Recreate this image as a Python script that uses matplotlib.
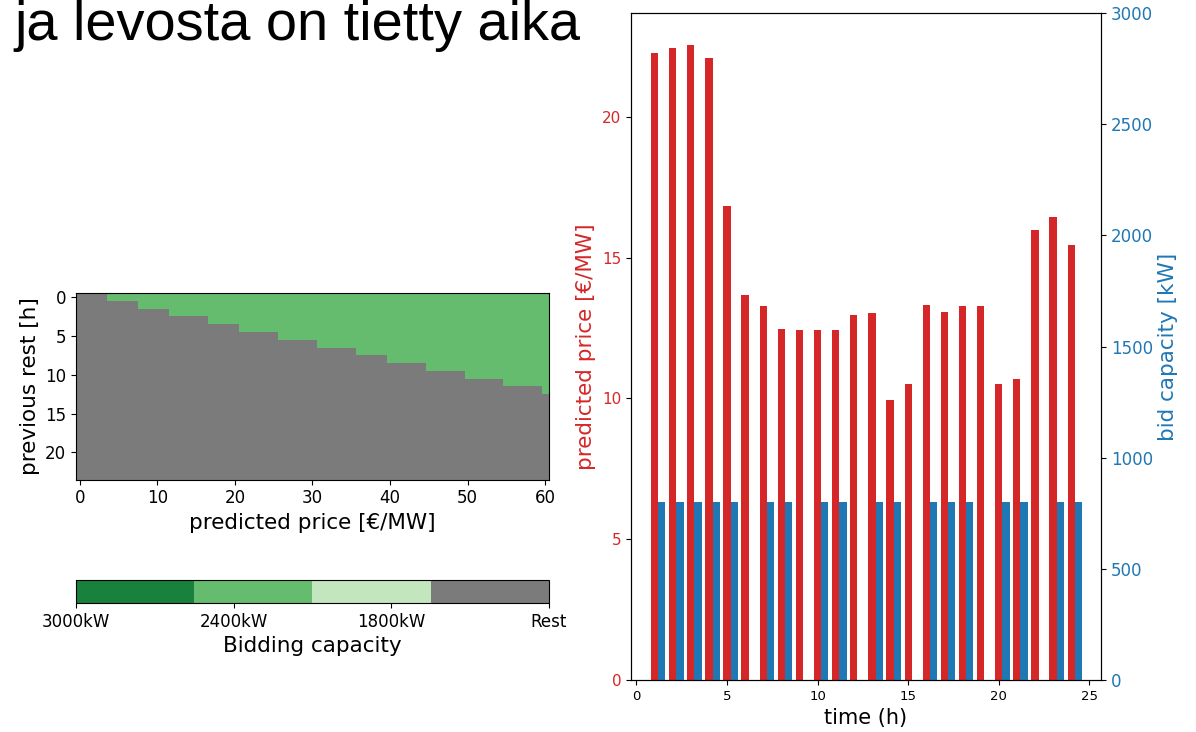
import numpy as np
import matplotlib
matplotlib.use("Agg")
import matplotlib.pyplot as plt
from matplotlib.colors import ListedColormap

# bidding map: rows = previous rest (h), columns = predicted price (EUR/MW)
rest_hours = np.arange(24)
price_grid = np.arange(61)
# lowest price that gets a 2400kW bid, for rest 0..12 h (longer rest -> "Rest")
min_price_2400 = [4, 8, 12, 17, 21, 26, 31, 36, 40, 45, 50, 55, 60]

cap_labels = ["3000kW", "2400kW", "1800kW", "Rest"]
cap_colors = ["#17813d", "#65bb6e", "#c3e6bf", "#7b7b7b"]

# hourly schedule
hours = np.arange(1, 25)
pred_price = [22.27, 22.44, 22.56, 22.09, 16.82, 13.67, 13.28, 12.45, 12.42, 12.42,
              12.42, 12.97, 13.05, 9.95, 10.50, 13.32, 13.07, 13.28, 13.28, 10.50,
              10.68, 15.97, 16.44, 15.44]
bid_capacity = [800, 800, 800, 800, 800, 0, 800, 800, 0, 800,
                800, 0, 800, 800, 0, 800, 800, 800, 0, 800,
                800, 0, 800, 800]

grid = np.full((len(rest_hours), len(price_grid)), 3)
for r, p in enumerate(min_price_2400):
    grid[r, price_grid >= p] = 1

fig = plt.figure(figsize=(11.96, 7.32), dpi=100)

fig.text(0.0117, 0.946, "ja levosta on tietty aika", fontsize=40.3,
         family="Liberation Sans", va="baseline", ha="left")

# left: bidding map
ax_map = fig.add_axes([0.0635, 0.3443, 0.3955, 0.2555])
cmap = ListedColormap(cap_colors)
im = ax_map.imshow(grid, cmap=cmap, vmin=0, vmax=3, interpolation="nearest")
ax_map.set_xlabel("predicted price [€/MW]", fontsize=15.5)
ax_map.set_ylabel("previous rest [h]", fontsize=15.5)
ax_map.set_xticks([0, 10, 20, 30, 40, 50, 60])
ax_map.set_yticks([0, 5, 10, 15, 20])
ax_map.tick_params(labelsize=12)

cax = fig.add_axes([0.0635, 0.1762, 0.3955, 0.0314])
cb = fig.colorbar(im, cax=cax, orientation="horizontal", ticks=[0, 1, 2, 3])
cb.ax.set_xticklabels(cap_labels)
cb.ax.tick_params(labelsize=12)
cb.set_label("Bidding capacity", fontsize=15.5)

# right: price and bid per hour
ax = fig.add_axes([0.5276, 0.0710, 0.3930, 0.9112])
ax.bar(hours, pred_price, width=0.4, color="tab:red")
ax.set_xlim(-0.3, 25.65)
ax.set_xlabel("time (h)", fontsize=15)
ax.set_ylabel("predicted price [€/MW]", color="tab:red", fontsize=15.5)
ax.tick_params(axis="y", labelcolor="tab:red", labelsize=11)
ax.tick_params(axis="x", labelsize=9.5)

ax2 = ax.twinx()
ax2.bar(hours + 0.4, bid_capacity, width=0.4, color="tab:blue")
ax2.set_ylim(0, 3000)
ax2.set_ylabel("bid capacity [kW]", color="tab:blue", fontsize=15.5)
ax2.tick_params(axis="y", labelcolor="tab:blue", labelsize=12)

fig.savefig("out.png", dpi=100)
